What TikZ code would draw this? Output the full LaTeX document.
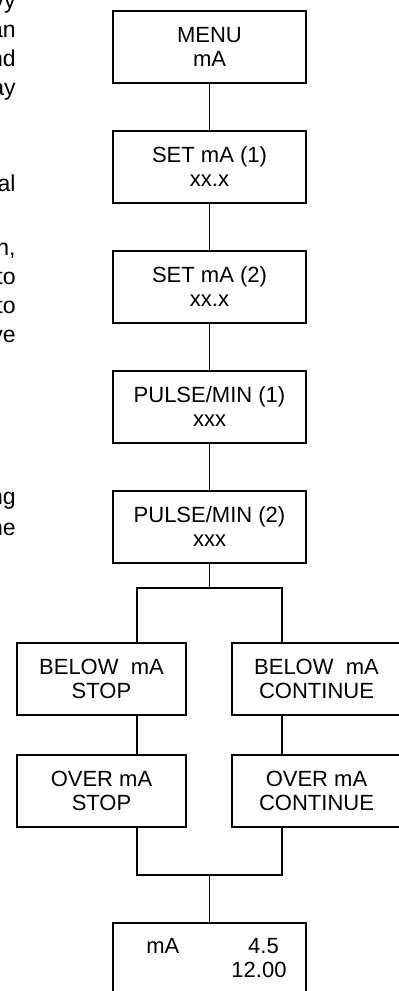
\documentclass[tikz,border=0pt]{standalone}
\usepackage{fontspec}
\setmainfont{Liberation Sans}
\usepackage{tikz}
\usetikzlibrary{positioning,calc}

\tikzset{
  menubox/.style={draw=black, line width=0.55pt, minimum width=96.5pt, minimum height=36pt,
    inner sep=0pt, align=center, font=\fontsize{11}{12}\selectfont},
  optbox/.style={menubox, minimum width=84.5pt},
  frag/.style={anchor=base east, inner sep=0pt, font=\fontsize{11.5}{12}\selectfont},
  line/.style={draw=black, line width=0.55pt}
}

\begin{document}
\begin{tikzpicture}[x=0.5pt,y=-0.5pt]
\useasboundingbox (0,0) rectangle (398,991);
% end of the paragraph beside the chart
\node[frag] (t1) at (16,8) {vy};
\node[frag] (t2) at (16,37) {an};
\node[frag] (t3) at (16,66) {nd};
\node[frag] (t4) at (16,95) {ay};
\node[frag] (t5) at (16,191) {al};
\node[frag] (t6) at (16,255) {n,};
\node[frag] (t7) at (16,284) {to};
\node[frag] (t8) at (16,313) {to};
\node[frag] (t9) at (16,342) {ve};
\node[frag] (t10) at (16,504) {ng};
\node[frag] (t11) at (16,535) {ne};
% main column
\node[menubox] (M) at (209.5,47) {MENU\\mA};
\node[menubox] (S1) at (209.5,167) {SET mA (1)\\xx.x};
\node[menubox] (S2) at (209.5,287) {SET mA (2)\\xx.x};
\node[menubox] (P1) at (209.5,407) {PULSE/MIN (1)\\xxx};
\node[menubox] (P2) at (209.5,527) {PULSE/MIN (2)\\xxx};
% the two branches
\node[optbox] (BS) at (101.5,679) {BELOW\ \ mA\\STOP};
\node[optbox] (BC) at (316.5,679) {BELOW\ \ mA\\CONTINUE};
\node[optbox] (OS) at (101.5,791) {OVER mA\\STOP};
\node[optbox] (OC) at (316.5,791) {OVER mA\\CONTINUE};
% display
\node[menubox] (D) at (209.5,959) {};
\node[frag, anchor=base west, font=\fontsize{11}{12}\selectfont] (Du) at (146,953) {mA};
\node[frag, anchor=base, font=\fontsize{11}{12}\selectfont] (D1) at (263.5,953) {4.5};
\node[frag, anchor=base, font=\fontsize{11}{12}\selectfont] (D2) at (259,977) {12.00};
\coordinate (L) at (137,588);
\coordinate (R) at (282,588);
\coordinate (L2) at (137,875);
\coordinate (R2) at (282,875);
\draw[line] (M.south)--(S1.north);
\draw[line] (S1.south)--(S2.north);
\draw[line] (S2.south)--(P1.north);
\draw[line] (P1.south)--(P2.north);
\draw[line] (P2.south)--(P2.south |- L);
\draw[line] (BS.north -| L)--(L)--(R)--(BC.north -| R);
\draw[line] (BS.south -| L)--(OS.north -| L);
\draw[line] (BC.south -| R)--(OC.north -| R);
\draw[line] (OS.south -| L2)--(L2)--(R2)--(OC.south -| R2);
\draw[line] (D.north |- L2)--(D.north);
\end{tikzpicture}
\end{document}
